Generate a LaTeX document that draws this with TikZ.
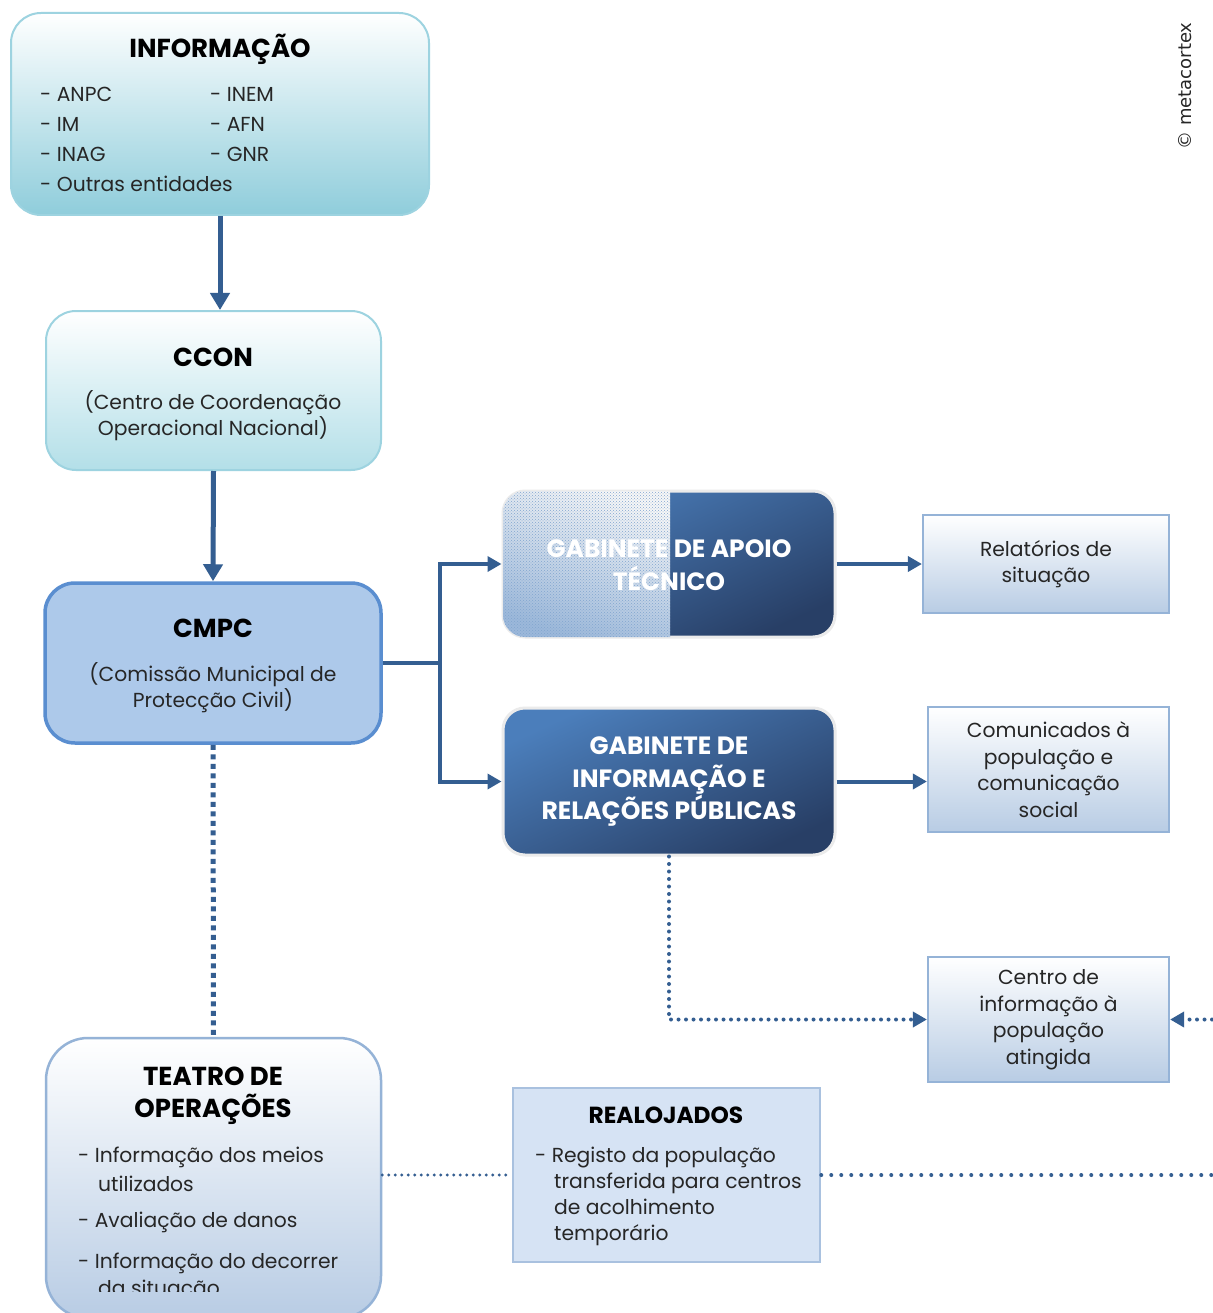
\documentclass[tikz,border=0pt]{standalone}
\usepackage{fontspec}
\setmainfont{Poppins}
\newfontfamily\wmfont{DejaVu Sans}
\usetikzlibrary{arrows.meta,patterns}

\definecolor{linkblue}{HTML}{345E91}
\definecolor{tealedge}{HTML}{9DD3E0}
\definecolor{tealfill}{HTML}{8FCDDB}
\definecolor{tealsoft}{HTML}{B3DFE8}
\definecolor{cmpcfill}{HTML}{ADC9EA}
\definecolor{cmpcedge}{HTML}{5A8ED0}
\definecolor{paleedge}{HTML}{95B3D7}
\definecolor{palefill}{HTML}{B8CCE4}
\definecolor{realfill}{HTML}{D6E3F4}
\definecolor{realedge}{HTML}{A9C1DF}
\definecolor{darktop}{HTML}{4B7EBB}
\definecolor{darkbot}{HTML}{283F66}

\tikzset{
  body/.style={font=\fontsize{20.3}{26.5}\selectfont, text=black!85, inner sep=0pt},
  head/.style={font=\bfseries\fontsize{26}{32}\selectfont, inner sep=0pt},
  whitehead/.style={font=\bfseries\fontsize{25}{32.5}\selectfont, text=white, align=center, inner sep=0pt},
  tealbox/.style={draw=tealedge, line width=2pt, rounded corners=30pt, top color=white, bottom color=#1},
  palebox/.style={draw=paleedge, line width=2.2pt, top color=white, bottom color=palefill},
  darkbox/.style={draw=black!8, line width=3pt, rounded corners=22pt,
    top color=darktop, bottom color=darkbot, shading angle=25},
  link/.style={draw=linkblue, line width=5pt},
  linkarrow/.style={link, -{Triangle[length=17pt,width=19pt]}},
  sidearrow/.style={draw=linkblue, line width=4pt, -{Triangle[length=14pt,width=15pt]}},
  dotline/.style={draw=linkblue, line width=4pt, line cap=round, dash pattern=on 0pt off 7.5pt},
  dotarrow/.style={dotline, -{Triangle[length=14pt,width=15pt]}},
  squaredots/.style={draw=linkblue, line width=5pt, dash pattern=on 5pt off 4.5pt},
}

\begin{document}
\begin{tikzpicture}[x=1pt,y=-1pt]
\useasboundingbox (0,0) rectangle (1212,1313);
\fill[white] (0,0) rectangle (1212,1313);

% ---------- INFORMACAO ----------
\node[tealbox=tealfill, minimum width=418pt, minimum height=202pt] (info) at (220,114) {};
\node[head] (infot) at (220,49) {INFORMAÇÃO};
\node[body, anchor=west] (i1) at (40,94) {- ANPC};
\node[body, anchor=west] (i2) at (40,124) {- IM};
\node[body, anchor=west] (i3) at (40,154) {- INAG};
\node[body, anchor=west] (i4) at (40,184) {- Outras entidades};
\node[body, anchor=west] (i5) at (210,94) {- INEM};
\node[body, anchor=west] (i6) at (210,124) {- AFN};
\node[body, anchor=west] (i7) at (210,154) {- GNR};

% ---------- CCON ----------
\node[tealbox=tealsoft, minimum width=335pt, minimum height=159pt] (ccon) at (213.5,390.5) {};
\node[head] (ccont) at (213,357) {CCON};
\node[body, align=center] (ccond) at (213,415.5) {(Centro de Coordenação\\Operacional Nacional)};

% ---------- CMPC ----------
\node[draw=cmpcedge, fill=cmpcfill, line width=3.5pt, rounded corners=30pt,
      minimum width=336pt, minimum height=160pt] (cmpc) at (213,663) {};
\node[head] (cmpct) at (213,628) {CMPC};
\node[body, align=center] (cmpcd) at (213,687.5) {(Comissão Municipal de\\Protecção Civil)};

% ---------- GABINETE DE APOIO TECNICO ----------
\node[darkbox, minimum width=332pt, minimum height=146pt] (gat) at (669,564) {};
\begin{scope}
  \clip[rounded corners=22pt] (503,491) rectangle (835,637);
  \shade[top color=black!3!white, bottom color=darktop!55!white, shading angle=-20]
    (503,491) rectangle (670,637);
  \fill[pattern=crosshatch dots, pattern color=darktop!70] (503,491) rectangle (670,637);
\end{scope}
\node[whitehead] (gatt) at (669,565) {GABINETE DE APOIO\\TÉCNICO};

% ---------- GABINETE DE INFORMACAO E RP ----------
\node[darkbox, minimum width=332pt, minimum height=147pt] (girp) at (669,781.5) {};
\node[whitehead] (girpt) at (669,782) {GABINETE DE\\INFORMAÇÃO E\\RELAÇÕES PÚBLICAS};

% ---------- right column ----------
\node[palebox, minimum width=246pt, minimum height=98pt, body, align=center] (rel) at (1046,564)
  {Relatórios de\\situação};
\node[palebox, minimum width=241pt, minimum height=125pt, body, align=center] (com) at (1048.5,769.5)
  {Comunicados à\\população e\\comunicação\\social};
\node[palebox, minimum width=241pt, minimum height=125pt, body, align=center] (centro) at (1048.5,1019.5)
  {Centro de\\informação à\\população\\atingida};

% ---------- REALOJADOS ----------
\node[draw=realedge, fill=realfill, line width=2.5pt, minimum width=307pt, minimum height=174pt] (real) at (666.5,1175) {};
\node[head, font=\bfseries\fontsize{23.3}{28}\selectfont] (realt) at (666,1115) {REALOJADOS};
\node[body, anchor=north west, align=left] (reald) at (535,1147)
  {- Registo da população\\[-0.5pt]\hspace*{19pt}transferida para centros\\[-0.5pt]\hspace*{19pt}de acolhimento\\[-0.5pt]\hspace*{19pt}temporário};

% ---------- TEATRO DE OPERACOES ----------
\node[draw=paleedge, line width=2.5pt, rounded corners=42pt, top color=white, bottom color=palefill,
      minimum width=335pt, minimum height=280pt] (teatro) at (213.5,1178) {};
\node[head, align=center] (teatrot) at (213,1096) {TEATRO DE\\OPERAÇÕES};
\begin{scope}
  \clip (50,1140) rectangle (380,1291);
  \node[body, anchor=west] (t1) at (78,1157) {- Informação dos meios};
  \node[body, anchor=west] (t2) at (98,1184) {utilizados};
  \node[body, anchor=west] (t3) at (78,1222) {- Avaliação de danos};
  \node[body, anchor=west] (t4) at (78,1263) {- Informação do decorrer};
  \node[body, anchor=west] (t5) at (98,1290) {da situação};
\end{scope}

% ---------- watermark ----------
\node[rotate=90, font=\wmfont\fontsize{18}{18}\selectfont, text=black!85, inner sep=0pt] (wm) at (1185,86) {© metacortex};

% ---------- connectors ----------
\draw[linkarrow] (info.south) -- (info.south |- ccon.north);
\draw[linkarrow] (ccon.south) -- (cmpc.north);
\coordinate (fork) at (440,663);
\draw[link, line width=4.5pt] (cmpc.east) -- (fork);
\draw[sidearrow, line join=miter] (fork) |- (gat.west);
\draw[sidearrow, line join=miter] (fork) |- (girp.west);
\draw[sidearrow] (gat.east) -- (rel.west);
\draw[sidearrow] (girp.east) -- (girp.east -| com.west);
\draw[dotarrow] (girp.south) |- (centro.west);
\coordinate (edgeA) at (1212,1019.5);
\draw[dotarrow] (edgeA) -- (centro.east);
\draw[squaredots] (cmpc.south) -- (teatro.north);
\draw[dotline, line width=3.3pt, dash pattern=on 0pt off 6.5pt] (real.west -| teatro.east) -- (real.west);
\coordinate (edgeB) at (1212,1175);
\draw[dotline, dash pattern=on 0pt off 10pt] (real.east) -- (edgeB);
\end{tikzpicture}
\end{document}
